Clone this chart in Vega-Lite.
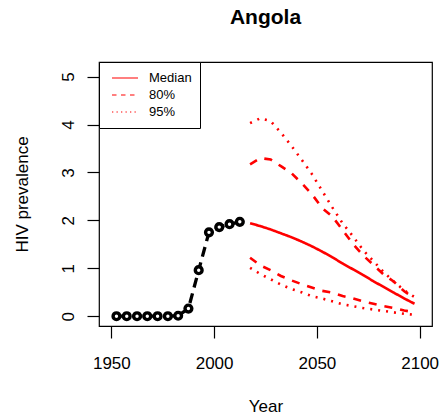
{
  "$schema": "https://vega.github.io/schema/vega-lite/v6.json",
  "autosize": {"type": "none"},
  "width": 333,
  "height": 264,
  "padding": {"left": 99, "top": 62, "right": 14, "bottom": 93},
  "background": "white",
  "title": {
    "text": "Angola",
    "fontSize": 21,
    "fontWeight": "bold",
    "font": "Liberation Sans",
    "anchor": "middle",
    "baseline": "alphabetic",
    "offset": 17,
    "color": "black"
  },
  "config": {
    "font": "Liberation Sans",
    "view": {"stroke": "black", "strokeWidth": 1.2},
    "axis": {
      "domain": false,
      "grid": false,
      "tickColor": "black",
      "tickWidth": 1.2,
      "tickSize": 12,
      "labelColor": "black",
      "titleColor": "black",
      "labelFont": "Liberation Sans",
      "titleFont": "Liberation Sans",
      "labelFontSize": 17,
      "titleFontSize": 17,
      "titleFontWeight": "normal"
    }
  },
  "resolve": {"scale": {"strokeDash": "independent"}, "legend": {"strokeDash": "independent"}},
  "datasets": {
    "observed": [
      {"year": 1952.5, "value": 0},
      {"year": 1957.5, "value": 0},
      {"year": 1962.5, "value": 0},
      {"year": 1967.5, "value": 0},
      {"year": 1972.5, "value": 0},
      {"year": 1977.5, "value": 0},
      {"year": 1982.5, "value": 0.01},
      {"year": 1987.5, "value": 0.16},
      {"year": 1992.5, "value": 0.96},
      {"year": 1997.5, "value": 1.75},
      {"year": 2002.5, "value": 1.86},
      {"year": 2007.5, "value": 1.92},
      {"year": 2012.5, "value": 1.97}
    ],
    "projection": [
      {"year": 2017.5, "value": 1.94, "series": "median", "band": "Median"},
      {"year": 2022.5, "value": 1.88, "series": "median", "band": "Median"},
      {"year": 2027.5, "value": 1.81, "series": "median", "band": "Median"},
      {"year": 2032.5, "value": 1.73, "series": "median", "band": "Median"},
      {"year": 2037.5, "value": 1.65, "series": "median", "band": "Median"},
      {"year": 2042.5, "value": 1.56, "series": "median", "band": "Median"},
      {"year": 2047.5, "value": 1.46, "series": "median", "band": "Median"},
      {"year": 2052.5, "value": 1.35, "series": "median", "band": "Median"},
      {"year": 2057.5, "value": 1.23, "series": "median", "band": "Median"},
      {"year": 2062.5, "value": 1.10, "series": "median", "band": "Median"},
      {"year": 2067.5, "value": 0.98, "series": "median", "band": "Median"},
      {"year": 2072.5, "value": 0.86, "series": "median", "band": "Median"},
      {"year": 2077.5, "value": 0.73, "series": "median", "band": "Median"},
      {"year": 2082.5, "value": 0.61, "series": "median", "band": "Median"},
      {"year": 2087.5, "value": 0.49, "series": "median", "band": "Median"},
      {"year": 2092.5, "value": 0.37, "series": "median", "band": "Median"},
      {"year": 2097.5, "value": 0.26, "series": "median", "band": "Median"},

      {"year": 2017.5, "value": 3.17, "series": "u80", "band": "80%"},
      {"year": 2022.5, "value": 3.30, "series": "u80", "band": "80%"},
      {"year": 2027.5, "value": 3.27, "series": "u80", "band": "80%"},
      {"year": 2032.5, "value": 3.13, "series": "u80", "band": "80%"},
      {"year": 2037.5, "value": 2.99, "series": "u80", "band": "80%"},
      {"year": 2042.5, "value": 2.78, "series": "u80", "band": "80%"},
      {"year": 2047.5, "value": 2.55, "series": "u80", "band": "80%"},
      {"year": 2052.5, "value": 2.26, "series": "u80", "band": "80%"},
      {"year": 2057.5, "value": 2.08, "series": "u80", "band": "80%"},
      {"year": 2062.5, "value": 1.80, "series": "u80", "band": "80%"},
      {"year": 2067.5, "value": 1.51, "series": "u80", "band": "80%"},
      {"year": 2072.5, "value": 1.27, "series": "u80", "band": "80%"},
      {"year": 2077.5, "value": 1.07, "series": "u80", "band": "80%"},
      {"year": 2082.5, "value": 0.87, "series": "u80", "band": "80%"},
      {"year": 2087.5, "value": 0.72, "series": "u80", "band": "80%"},
      {"year": 2092.5, "value": 0.52, "series": "u80", "band": "80%"},
      {"year": 2097.5, "value": 0.38, "series": "u80", "band": "80%"},

      {"year": 2017.5, "value": 1.22, "series": "l80", "band": "80%"},
      {"year": 2022.5, "value": 1.06, "series": "l80", "band": "80%"},
      {"year": 2027.5, "value": 0.96, "series": "l80", "band": "80%"},
      {"year": 2032.5, "value": 0.84, "series": "l80", "band": "80%"},
      {"year": 2037.5, "value": 0.75, "series": "l80", "band": "80%"},
      {"year": 2042.5, "value": 0.67, "series": "l80", "band": "80%"},
      {"year": 2047.5, "value": 0.60, "series": "l80", "band": "80%"},
      {"year": 2052.5, "value": 0.53, "series": "l80", "band": "80%"},
      {"year": 2057.5, "value": 0.49, "series": "l80", "band": "80%"},
      {"year": 2062.5, "value": 0.42, "series": "l80", "band": "80%"},
      {"year": 2067.5, "value": 0.37, "series": "l80", "band": "80%"},
      {"year": 2072.5, "value": 0.31, "series": "l80", "band": "80%"},
      {"year": 2077.5, "value": 0.26, "series": "l80", "band": "80%"},
      {"year": 2082.5, "value": 0.21, "series": "l80", "band": "80%"},
      {"year": 2087.5, "value": 0.17, "series": "l80", "band": "80%"},
      {"year": 2092.5, "value": 0.12, "series": "l80", "band": "80%"},
      {"year": 2097.5, "value": 0.08, "series": "l80", "band": "80%"},

      {"year": 2017.5, "value": 4.03, "series": "u95", "band": "95%"},
      {"year": 2022.5, "value": 4.13, "series": "u95", "band": "95%"},
      {"year": 2027.5, "value": 4.07, "series": "u95", "band": "95%"},
      {"year": 2032.5, "value": 3.83, "series": "u95", "band": "95%"},
      {"year": 2037.5, "value": 3.56, "series": "u95", "band": "95%"},
      {"year": 2042.5, "value": 3.27, "series": "u95", "band": "95%"},
      {"year": 2047.5, "value": 2.97, "series": "u95", "band": "95%"},
      {"year": 2052.5, "value": 2.62, "series": "u95", "band": "95%"},
      {"year": 2057.5, "value": 2.27, "series": "u95", "band": "95%"},
      {"year": 2062.5, "value": 1.94, "series": "u95", "band": "95%"},
      {"year": 2067.5, "value": 1.67, "series": "u95", "band": "95%"},
      {"year": 2072.5, "value": 1.38, "series": "u95", "band": "95%"},
      {"year": 2077.5, "value": 1.15, "series": "u95", "band": "95%"},
      {"year": 2082.5, "value": 0.92, "series": "u95", "band": "95%"},
      {"year": 2087.5, "value": 0.72, "series": "u95", "band": "95%"},
      {"year": 2092.5, "value": 0.54, "series": "u95", "band": "95%"},
      {"year": 2097.5, "value": 0.40, "series": "u95", "band": "95%"},

      {"year": 2017.5, "value": 1.01, "series": "l95", "band": "95%"},
      {"year": 2022.5, "value": 0.88, "series": "l95", "band": "95%"},
      {"year": 2027.5, "value": 0.77, "series": "l95", "band": "95%"},
      {"year": 2032.5, "value": 0.66, "series": "l95", "band": "95%"},
      {"year": 2037.5, "value": 0.57, "series": "l95", "band": "95%"},
      {"year": 2042.5, "value": 0.50, "series": "l95", "band": "95%"},
      {"year": 2047.5, "value": 0.42, "series": "l95", "band": "95%"},
      {"year": 2052.5, "value": 0.37, "series": "l95", "band": "95%"},
      {"year": 2057.5, "value": 0.31, "series": "l95", "band": "95%"},
      {"year": 2062.5, "value": 0.25, "series": "l95", "band": "95%"},
      {"year": 2067.5, "value": 0.21, "series": "l95", "band": "95%"},
      {"year": 2072.5, "value": 0.17, "series": "l95", "band": "95%"},
      {"year": 2077.5, "value": 0.14, "series": "l95", "band": "95%"},
      {"year": 2082.5, "value": 0.11, "series": "l95", "band": "95%"},
      {"year": 2087.5, "value": 0.08, "series": "l95", "band": "95%"},
      {"year": 2092.5, "value": 0.05, "series": "l95", "band": "95%"},
      {"year": 2097.5, "value": 0.03, "series": "l95", "band": "95%"}
    ]
  },
  "encoding": {
    "x": {
      "field": "year",
      "type": "quantitative",
      "scale": {"domain": [1944, 2106], "nice": false, "zero": false},
      "axis": {
        "title": "Year",
        "values": [1950, 2000, 2050, 2100],
        "format": "d",
        "labelPadding": 30,
        "labelBaseline": "alphabetic",
        "titleY": 85.7,
        "titleBaseline": "alphabetic"
      }
    },
    "y": {
      "field": "value",
      "type": "quantitative",
      "scale": {"domain": [-0.204, 5.304], "nice": false, "zero": false},
      "axis": {
        "title": "HIV prevalence",
        "values": [0, 1, 2, 3, 4, 5],
        "labelAngle": 270,
        "labelAlign": "center",
        "labelBaseline": "alphabetic",
        "labelPadding": 13.7,
        "titleAngle": 270,
        "titleAlign": "center",
        "titleBaseline": "alphabetic",
        "titleX": -71.7,
        "titleY": 132
      }
    }
  },
  "layer": [
    {
      "data": {"name": "observed"},
      "mark": {"type": "line", "color": "black", "strokeWidth": 3.3, "strokeDash": [10, 6]},
      "encoding": {}
    },
    {
      "data": {"name": "observed"},
      "mark": {"type": "point", "shape": "circle", "filled": false, "fill": "white", "fillOpacity": 1, "stroke": "black", "strokeWidth": 3.4, "size": 46, "opacity": 1},
      "encoding": {}
    },
    {
      "data": {"name": "projection"},
      "mark": {"type": "line", "color": "#ff0000", "strokeWidth": 2.6},
      "encoding": {
        "detail": {"field": "series"},
        "strokeDash": {
          "field": "band",
          "type": "nominal",
          "scale": {"domain": ["Median", "80%", "95%"], "range": [[1, 0], [8, 8], [2, 6]]},
          "legend": null
        }
      }
    },
    {
      "data": {"name": "projection"},
      "transform": [{"filter": "false"}],
      "mark": {"type": "line", "color": "#ff0000", "strokeWidth": 1.2},
      "encoding": {
        "detail": {"field": "series"},
        "strokeDash": {
          "field": "band",
          "type": "nominal",
          "scale": {"domain": ["Median", "80%", "95%"], "range": [[1, 0], [4.5, 4.5], [1.3, 3.2]]},
          "legend": {
            "title": null,
            "orient": "top-left",
            "offset": 0,
            "padding": 7.5,
            "clipHeight": 17,
            "strokeColor": "black",
            "fillColor": "white",
            "symbolType": "stroke",
            "symbolSize": 676,
            "symbolStrokeColor": "#ff0000",
            "symbolStrokeWidth": 1.2,
            "symbolOffset": 4.5,
            "labelOffset": 10,
            "labelFontSize": 13,
            "labelFont": "Liberation Sans",
            "labelColor": "black",
            "rowPadding": 0
          }
        }
      }
    }
  ]
}
